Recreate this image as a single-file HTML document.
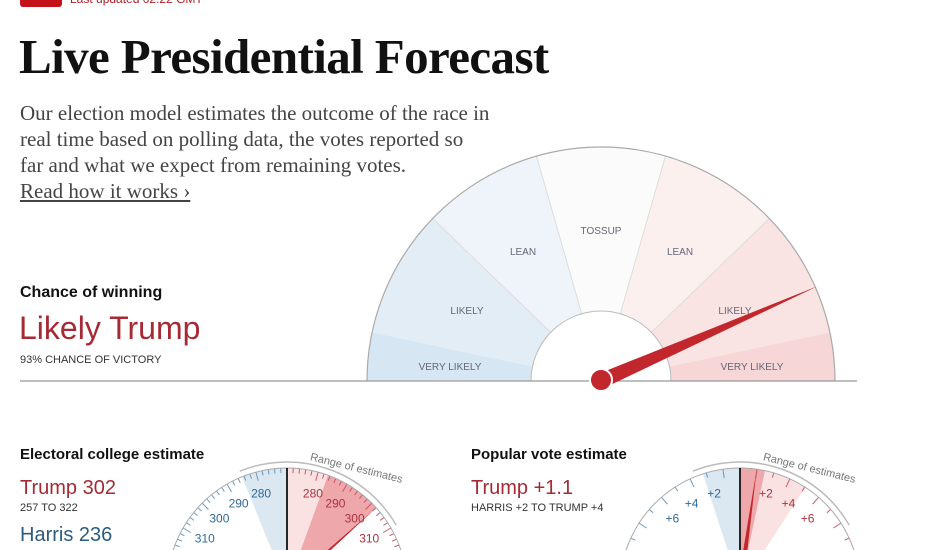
<!DOCTYPE html>
<html><head><meta charset="utf-8"><style>
html,body{margin:0;width:938px;height:550px;overflow:hidden;background:#fff;position:relative;font-family:"Liberation Sans",sans-serif}
.a{position:absolute;white-space:nowrap}
.serif{font-family:"Liberation Serif",serif}
</style></head><body>
<div class="a" style="left:20px;top:-8px;width:42px;height:15px;background:#c4121a;border-radius:3px"></div>
<div class="a" style="left:70px;top:-8px;font-size:12px;color:#b01c22">Last updated 02:22 GMT</div>
<div class="a serif" style="left:19px;top:28px;font-size:49px;font-weight:bold;color:#111;letter-spacing:-0.6px">Live Presidential Forecast</div>
<div class="a serif" style="left:20px;top:100px;font-size:21px;line-height:26px;color:#444">Our election model estimates the outcome of the race in<br>real time based on polling data, the votes reported so<br>far and what we expect from remaining votes.<br><span style="text-decoration:underline">Read how it works ›</span></div>
<div class="a" style="left:20px;top:284px;font-size:16px;font-weight:bold;color:#111">Chance of winning</div>
<div class="a" style="left:19px;top:310px;font-size:32px;color:#a52a34">Likely Trump</div>
<div class="a" style="left:20px;top:354px;font-size:11px;color:#333">93% CHANCE OF VICTORY</div>
<div class="a" style="left:20px;top:446px;font-size:15px;font-weight:bold;color:#111">Electoral college estimate</div>
<div class="a" style="left:20px;top:477px;font-size:20px;color:#a52a34">Trump 302</div>
<div class="a" style="left:20px;top:502px;font-size:11px;color:#333">257 TO 322</div>
<div class="a" style="left:20px;top:524px;font-size:20px;color:#2c5b7e">Harris 236</div>
<div class="a" style="left:471px;top:446px;font-size:15px;font-weight:bold;color:#111">Popular vote estimate</div>
<div class="a" style="left:471px;top:477px;font-size:20px;color:#a52a34">Trump +1.1</div>
<div class="a" style="left:471px;top:502px;font-size:11px;color:#333">HARRIS +2 TO TRUMP +4</div>
<svg id="s" width="938" height="550" style="position:absolute;left:0;top:0;overflow:hidden"></svg>
<script>
var s=document.getElementById('s'),h='';
function P(cx,cy,r,a){a=a*Math.PI/180;return [cx+r*Math.sin(a),cy-r*Math.cos(a)];}
function sec(cx,cy,r0,r1,a0,a1,f){var p=P(cx,cy,r1,a0),q=P(cx,cy,r1,a1),u=P(cx,cy,r0,a1),v=P(cx,cy,r0,a0);
h+='<path d="M'+v+' L'+p+' A'+r1+' '+r1+' 0 0 1 '+q+' L'+u+' A'+r0+' '+r0+' 0 0 0 '+v+'Z" fill="'+f+'"/>';}
function ln(a,b,c,w){h+='<line x1="'+a[0]+'" y1="'+a[1]+'" x2="'+b[0]+'" y2="'+b[1]+'" stroke="'+c+'" stroke-width="'+w+'"/>';}
function tx(p,t,c,sz,anc){h+='<text x="'+p[0]+'" y="'+p[1]+'" fill="'+c+'" font-size="'+sz+'" text-anchor="'+(anc||'middle')+'" font-family="Liberation Sans,sans-serif">'+t+'</text>';}
var cx=601,cy=381,R=234,r=70;
var segs=[[-90,-78,'#d6e6f3'],[-78,-46,'#e2edf6'],[-46,-16,'#eef4fa'],[-16,16,'#fbfbfb'],[16,46,'#fcf0ef'],[46,78,'#f9e3e3'],[78,90,'#f6d6d6']];
segs.forEach(function(g){sec(cx,cy,r,R,g[0],g[1],g[2]);});
[-46,-16,16,46].forEach(function(a){ln(P(cx,cy,r,a),P(cx,cy,R,a),'#ddd',1);});
h+='<path d="M'+P(cx,cy,R,-90)+' A'+R+' '+R+' 0 0 1 '+P(cx,cy,R,90)+'" fill="none" stroke="#aaa" stroke-width="1.2"/>';
h+='<path d="M'+P(cx,cy,r,-90)+' A'+r+' '+r+' 0 0 1 '+P(cx,cy,r,90)+'" fill="#fff" stroke="#bbb" stroke-width="1"/>';
ln([20,381],[857,381],'#999',1.2);
var L=[[450,370,'VERY LIKELY'],[467,314,'LIKELY'],[523,255,'LEAN'],[601,234,'TOSSUP'],[680,255,'LEAN'],[735,314,'LIKELY'],[752,370,'VERY LIKELY']];
L.forEach(function(l){tx([l[0],l[1]],l[2],'#667',10);});
h+='<polygon points="598,374 604,388 818,286" fill="#c1272d"/>';
h+='<circle cx="601" cy="380" r="11" fill="#c1272d" stroke="#fff" stroke-width="2"/>';
function small(cx,cy,R,blue,red1,red2,needle,labs,fine){
 sec(cx,cy,0,R,blue,0,'#dbe7f1');
 sec(cx,cy,0,R,0,red2,'#fae1e2');
 sec(cx,cy,0,R,red1[0],red1[1],'#eea7ab');
 var n=fine?60:22;
 for(var i=0;i<=n;i++){var a=-90+180*i/n;ln(P(cx,cy,R,a),P(cx,cy,R-(i%(fine?5:2)==0?9:5),a),a<0?'#6a9ac0':'#c85a64',1);}
 h+='<path d="M'+P(cx,cy,R,-90)+' A'+R+' '+R+' 0 0 1 '+P(cx,cy,R,90)+'" fill="none" stroke="#aaa" stroke-width="1"/>';
 h+='<path d="M'+P(cx,cy,R+6,-22)+' A'+(R+6)+' '+(R+6)+' 0 0 1 '+P(cx,cy,R+6,60)+'" fill="none" stroke="#bbb" stroke-width="1.5"/>';
 ln([cx,cy-R],[cx,cy],'#111',1.8);
 labs.forEach(function(l){tx(P(cx,cy,R-26,l[0]),l[1],l[0]<0?'#2f6a96':'#a8343f',12);});
 var e=P(cx,cy,R,needle);h+='<polygon points="'+(cx-3)+','+cy+' '+(cx+3)+','+cy+' '+e+'" fill="#c1272d"/>';
 h+='<text font-size="11" fill="#777" font-family="Liberation Sans,sans-serif" transform="translate('+P(cx,cy,R+10,10)+') rotate(14)">Range of estimates</text>';
}
small(287,588,120,-22,[20,48],28,48,[[-16,'280'],[-31,'290'],[-46,'300'],[-61,'310'],[16,'280'],[31,'290'],[46,'300'],[61,'310']],true);
small(740,588,120,-18,[0,12],33,8,[[-16,'+2'],[-31,'+4'],[-46,'+6'],[16,'+2'],[31,'+4'],[46,'+6']],false);
s.innerHTML=h;
</script>
</body></html>
